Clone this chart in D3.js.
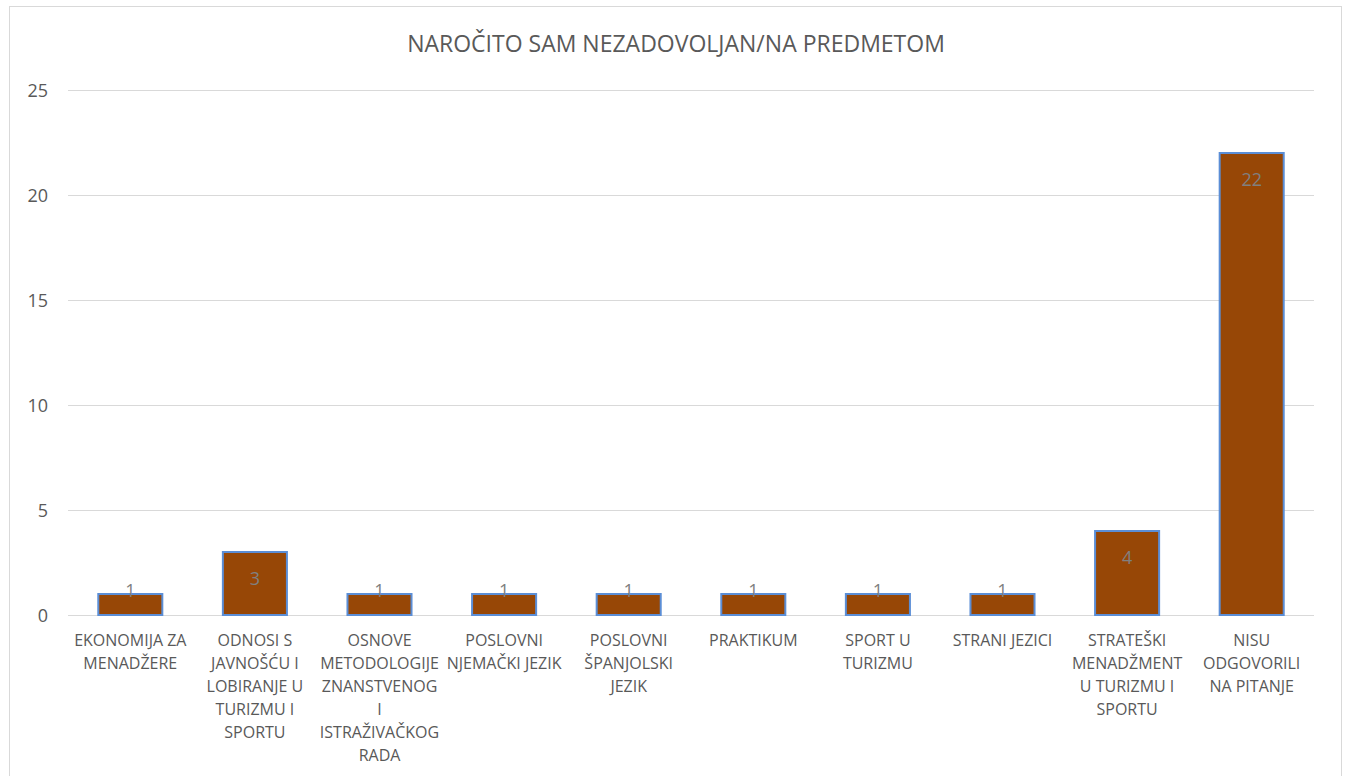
<!DOCTYPE html>
<html>
<head>
<meta charset="utf-8">
<script src="https://cdn.jsdelivr.net/npm/d3@7"></script>
<style>
  html, body { margin: 0; padding: 0; background: #fff; }
  svg { display: block; font-family: "Open Sans", sans-serif; }
</style>
</head>
<body>
<svg id="chart" width="1348" height="776"></svg>
<script>
// chart data
const title = "NAROČITO SAM NEZADOVOLJAN/NA PREDMETOM";
const categories = [
  ["EKONOMIJA ZA", "MENADŽERE"],
  ["ODNOSI S", "JAVNOŠĆU I", "LOBIRANJE U", "TURIZMU I", "SPORTU"],
  ["OSNOVE", "METODOLOGIJE", "ZNANSTVENOG", "I", "ISTRAŽIVAČKOG", "RADA"],
  ["POSLOVNI", "NJEMAČKI JEZIK"],
  ["POSLOVNI", "ŠPANJOLSKI", "JEZIK"],
  ["PRAKTIKUM"],
  ["SPORT U", "TURIZMU"],
  ["STRANI JEZICI"],
  ["STRATEŠKI", "MENADŽMENT", "U TURIZMU I", "SPORTU"],
  ["NISU", "ODGOVORILI", "NA PITANJE"]
];
const values = [1, 3, 1, 1, 1, 1, 1, 1, 4, 22];
const yTicks = [0, 5, 10, 15, 20, 25];

const svg = d3.select("#chart");
const margin = { top: 90, right: 34, bottom: 161, left: 68 };
const W = 1348, H = 776;
const w = W - margin.left - margin.right;
const h = H - margin.top - margin.bottom;

// outer frame (bottom edge runs off the picture)
svg.append("rect")
  .attr("x", 9.5).attr("y", 6.5)
  .attr("width", 1332).attr("height", 800)
  .attr("fill", "none")
  .attr("stroke", "#d9d9d9")
  .attr("stroke-width", 1);

svg.append("text")
  .attr("x", 676).attr("y", 52)
  .attr("text-anchor", "middle")
  .attr("fill", "#595959")
  .attr("font-size", "23px")
  .text(title);

const g = svg.append("g").attr("transform", `translate(${margin.left},${margin.top})`);

const x = d3.scaleBand()
  .domain(d3.range(categories.length))
  .range([0, w])
  .paddingInner(0.486)
  .paddingOuter(0.243);

const y = d3.scaleLinear().domain([0, 25]).range([h, 0]);

// grid
g.selectAll(".grid").data(yTicks).join("line")
  .attr("x1", 0).attr("x2", w)
  .attr("y1", d => Math.round(y(d)) + 0.5).attr("y2", d => Math.round(y(d)) + 0.5)
  .attr("stroke", "#d9d9d9")
  .attr("stroke-width", 1);

// y labels
g.selectAll(".ylab").data(yTicks).join("text")
  .attr("x", -20)
  .attr("y", d => y(d) + 7)
  .attr("text-anchor", "end")
  .attr("fill", "#595959")
  .attr("font-size", "18px")
  .text(d => d);

// bars
g.selectAll(".bar").data(values).join("rect")
  .attr("x", (d, i) => x(i))
  .attr("y", d => y(d))
  .attr("width", x.bandwidth())
  .attr("height", d => h - y(d))
  .attr("fill", "#974706")
  .attr("stroke", "#5b8ed6")
  .attr("stroke-width", 2);

// value labels (inside end, pushed up on short bars)
g.selectAll(".val").data(values).join("text")
  .attr("x", (d, i) => x(i) + x.bandwidth() / 2)
  .attr("y", d => Math.min(y(d) + 26, h - 25) + 7)
  .attr("text-anchor", "middle")
  .attr("fill", "#808080")
  .attr("font-size", "18px")
  .text(d => d);

// category labels
const cat = g.selectAll(".cat").data(categories).join("text")
  .attr("text-anchor", "middle")
  .attr("fill", "#595959")
  .attr("font-size", "16px")
  .attr("transform", (d, i) => `translate(${x(i) + x.bandwidth() / 2},${h + 31})`);
cat.selectAll("tspan").data(d => d).join("tspan")
  .attr("x", 0)
  .attr("y", (d, j) => j * 23)
  .text(d => d);
</script>
</body>
</html>
